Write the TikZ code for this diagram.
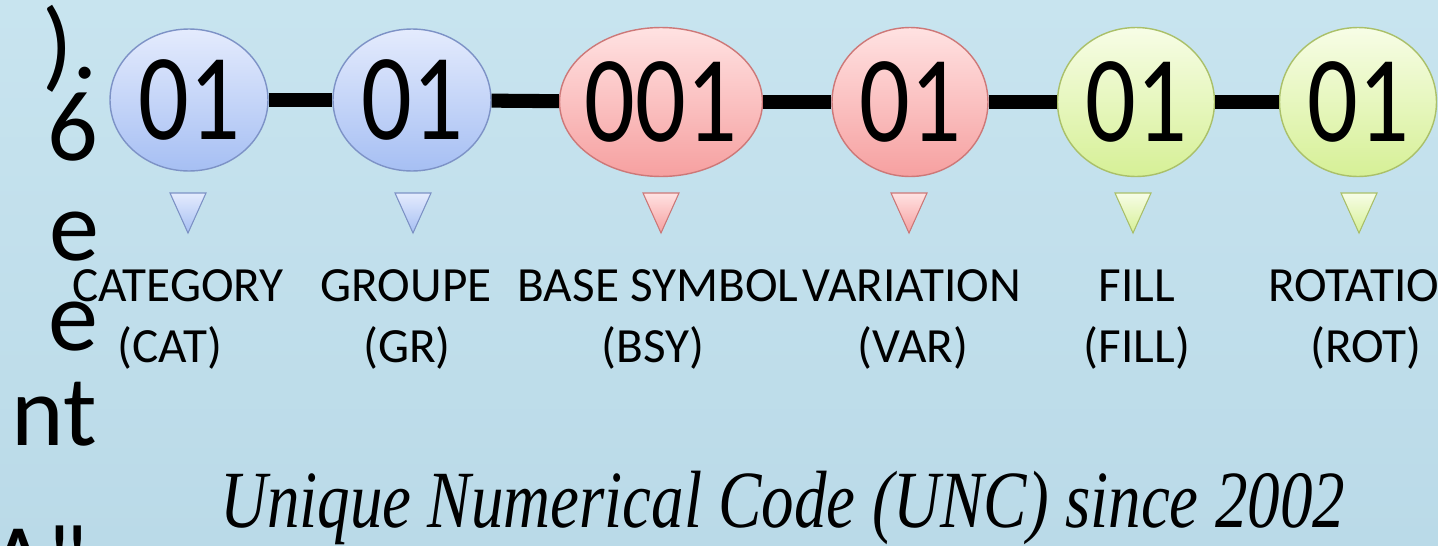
\documentclass[tikz,border=0pt]{standalone}
\usepackage{graphicx}
\usepackage{fontspec}
\setmainfont{Liberation Serif}
\newfontfamily\calibri{Carlito}
\usetikzlibrary{shapes.geometric}

\definecolor{bgtop}{RGB}{200,228,239}
\definecolor{bgbottom}{RGB}{186,218,232}
\definecolor{bluetop}{RGB}{228,235,253}
\definecolor{bluebottom}{RGB}{166,191,243}
\definecolor{blueline}{RGB}{125,146,198}
\definecolor{pinktop}{RGB}{255,226,226}
\definecolor{pinkbottom}{RGB}{246,160,160}
\definecolor{pinkline}{RGB}{205,120,120}
\definecolor{greentop}{RGB}{247,253,230}
\definecolor{greenbottom}{RGB}{214,240,150}
\definecolor{greenline}{RGB}{170,192,105}

\tikzset{
  code/.style={ellipse, inner sep=0pt, line width=0.8pt,
    font=\calibri\fontsize{57}{57}\selectfont},
  code blue/.style={code, draw=blueline, top color=bluetop, bottom color=bluebottom},
  code pink/.style={code, draw=pinkline, top color=pinktop, bottom color=pinkbottom},
  code green/.style={code, draw=greenline, top color=greentop, bottom color=greenbottom},
  bar/.style={line width=8pt, black},
  pointer/.style={line width=0.6pt},
  field/.style={anchor=base, font=\calibri\fontsize{28}{30}\selectfont},
  fragment/.style={anchor=base east, font=\calibri\fontsize{57}{57}\selectfont},
  motto/.style={anchor=base west, font=\itshape\fontsize{37}{40}\selectfont}
}

\begin{document}
\begin{tikzpicture}[x=0.02cm, y=-0.02cm]
  \useasboundingbox (0,0) rectangle (1438,545);
  \clip (0,0) rectangle (1438,545);
  \fill[top color=bgtop, bottom color=bgbottom] (0,0) rectangle (1438,545);

  % cut-off paragraph on the left
  \node[fragment] (frag1) at (104,78) {).};
  \node[fragment] (frag2) at (104,160) {6};
  \node[fragment] (frag3) at (106,260) {e};
  \node[fragment] (frag4) at (105,350) {e};
  \node[fragment] (frag5) at (103,445) {nt};
  \node[fragment] (frag6) at (94,593) {A"};

  % code fields
  \node[code blue, minimum width=3.16cm, minimum height=2.84cm] (cat) at (189,100) {\makebox[0pt]{\scalebox{1}[1.23]{01}}};
  \node[code blue, minimum width=3.16cm, minimum height=2.84cm] (grp) at (412,100) {\makebox[0pt]{\scalebox{1}[1.23]{01}}};
  \node[code pink, minimum width=4.06cm, minimum height=2.98cm] (bsy) at (661,102) {\makebox[0pt]{\scalebox{1}[1.23]{001}}};
  \node[code pink, minimum width=3.12cm, minimum height=2.98cm] (var) at (910,102) {\makebox[0pt]{\scalebox{1}[1.23]{01}}};
  \node[code green, minimum width=3.14cm, minimum height=2.98cm] (fil) at (1136,102) {\makebox[0pt]{\scalebox{1}[1.23]{01}}};
  \node[code green, minimum width=3.14cm, minimum height=2.98cm] (rot) at (1358,102) {\makebox[0pt]{\scalebox{1}[1.23]{01}}};

  \draw[bar] (cat) -- (grp);
  \draw[bar] (grp) -- (bsy);
  \draw[bar] (bsy) -- (var);
  \draw[bar] (var) -- (fil);
  \draw[bar] (fil) -- (rot);

  % pointers
  \filldraw[pointer, draw=blueline, top color=bluetop, bottom color=bluebottom] (170,193) -- (206,193) -- (188,233) -- cycle;
  \filldraw[pointer, draw=blueline, top color=bluetop, bottom color=bluebottom] (395,193) -- (431,193) -- (413,233) -- cycle;
  \filldraw[pointer, draw=pinkline, top color=pinktop, bottom color=pinkbottom] (643,193) -- (679,193) -- (661,233) -- cycle;
  \filldraw[pointer, draw=pinkline, top color=pinktop, bottom color=pinkbottom] (891,193) -- (927,193) -- (909,233) -- cycle;
  \filldraw[pointer, draw=greenline, top color=greentop, bottom color=greenbottom] (1115,193) -- (1151,193) -- (1133,233) -- cycle;
  \filldraw[pointer, draw=greenline, top color=greentop, bottom color=greenbottom] (1341,193) -- (1377,193) -- (1359,233) -- cycle;

  % field names
  \node[field] (catname) at (178,301) {CATEGORY};
  \node[field] (catabbr) at (170,362) {(CAT)};
  \node[field] (grpname) at (406,301) {GROUPE};
  \node[field] (grpabbr) at (407,362) {(GR)};
  \node[field] (bsyname) at (658,301) {BASE SYMBOL};
  \node[field] (bsyabbr) at (653,362) {(BSY)};
  \node[field] (varname) at (912,301) {VARIATION};
  \node[field] (varabbr) at (913,362) {(VAR)};
  \node[field] (filname) at (1137,301) {FILL};
  \node[field] (filabbr) at (1137,362) {(FILL)};
  \node[field, anchor=base west] (rotname) at (1262,301) {ROTATIO};
  \node[field] (rotabbr) at (1366,362) {(ROT)};

  \node[motto] (motto) at (214,527) {\scalebox{1}[1.25]{Unique Numerical Code (UNC) since 2002}};
\end{tikzpicture}
\end{document}
